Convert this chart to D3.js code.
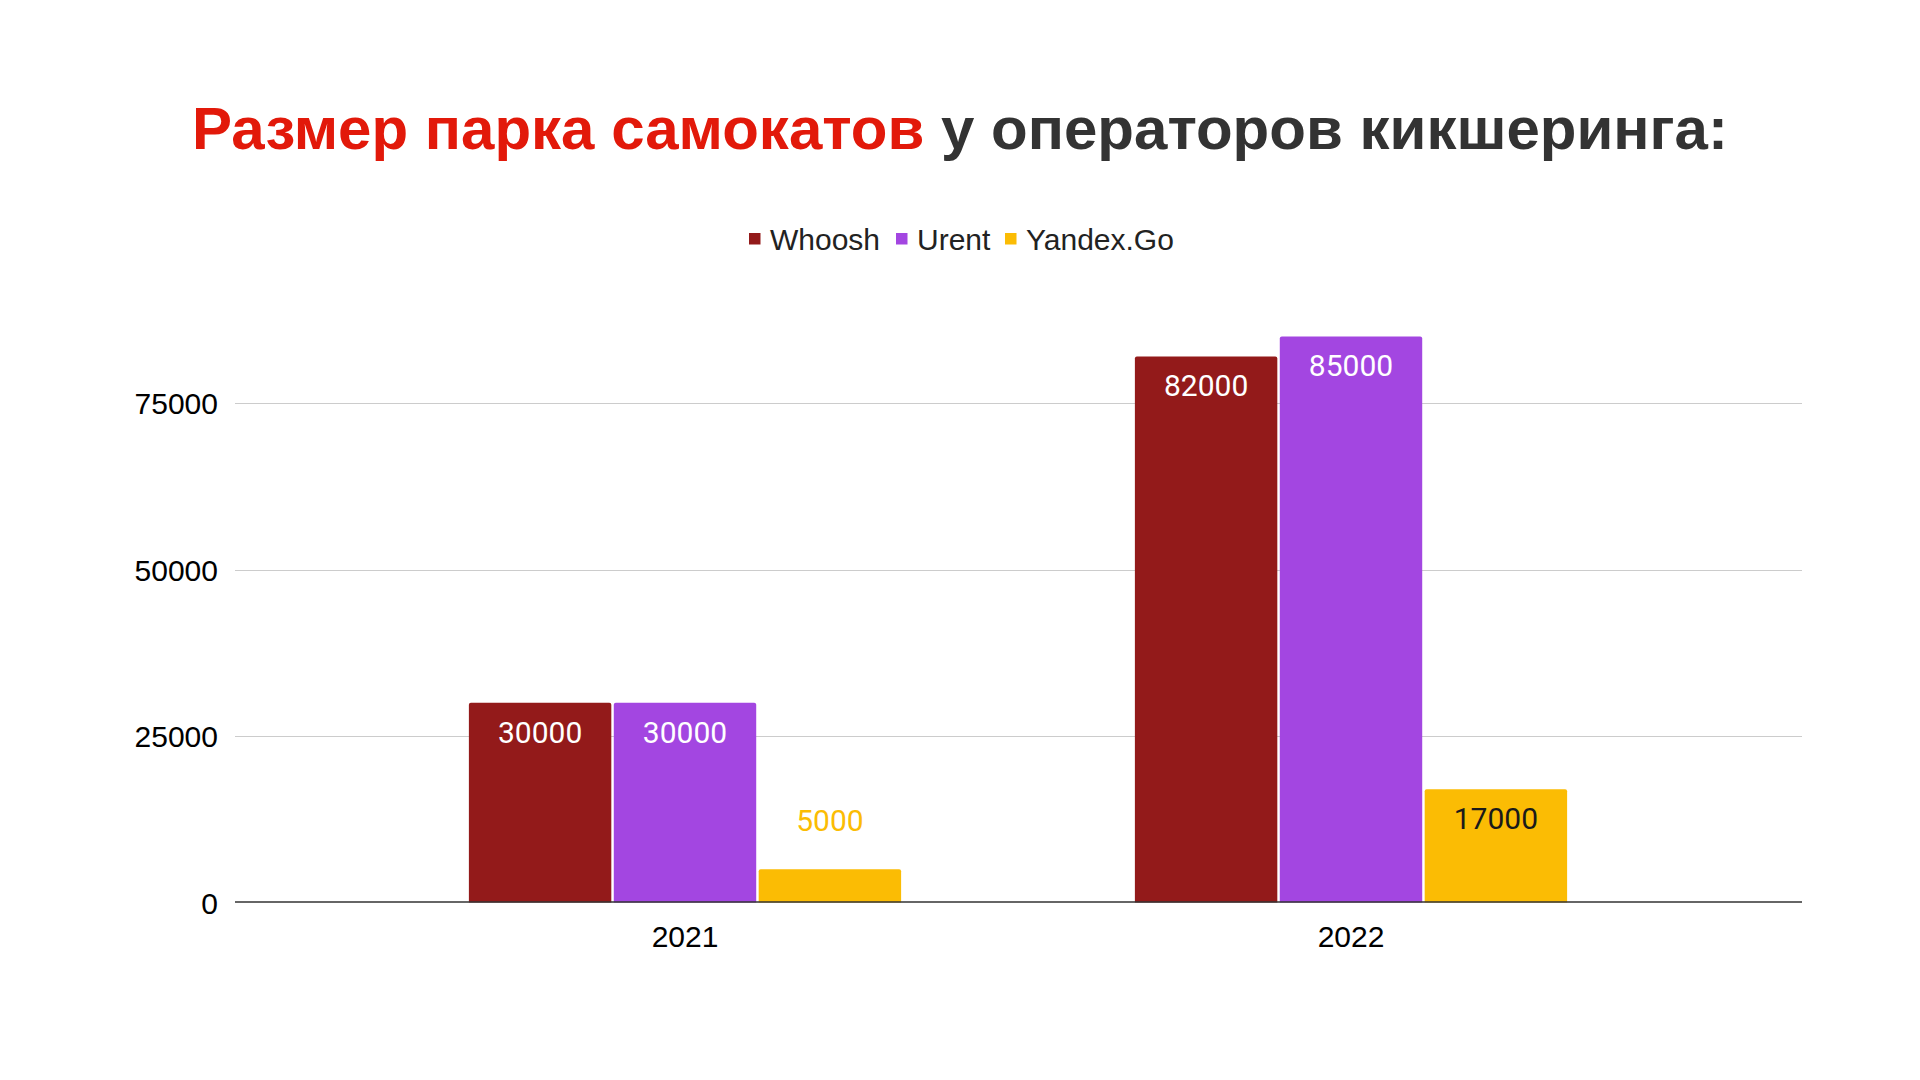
<!DOCTYPE html>
<meta charset="utf-8">
<script src="https://d3js.org/d3.v7.min.js"></script>
<style>
body { margin: 0; background: white; }
svg text { font-family: "Liberation Sans", Arial, sans-serif; }
</style>
<body>
<svg id="chart" width="1920" height="1080"></svg>
<script>
  // data
  var years = ["2021", "2022"];
  var operators = ["Whoosh", "Urent", "Yandex.Go"];
  var whoosh = [30000, 82000];
  var urent = [30000, 85000];
  var yandex = [5000, 17000];
  var yTicks = [0, 25000, 50000, 75000];
  var colors = ["#931a1a", "#a346e1", "#fbbc04"];

  var seriesValues = [whoosh, urent, yandex];
  var rows = [];
  years.forEach(function(yr, i) {
    operators.forEach(function(op, j) {
      rows.push({year: yr, op: op, value: seriesValues[j][i], idx: j});
    });
  });

  var svg = d3.select("#chart");

  // title
  var title = svg.append("text")
    .attr("x", 960)
    .attr("y", 149)
    .attr("text-anchor", "middle")
    .style("font-size", "60px")
    .style("font-weight", "bold");
  title.append("tspan").attr("fill", "#e2190a").text("Размер парка самокатов");
  title.append("tspan").attr("fill", "#333333").text(" у операторов кикшеринга:");

  var plotLeft = 235, plotRight = 1802;

  var y = d3.scaleLinear()
    .domain([0, 75000])
    .range([902.5, 403]);

  var x = d3.scaleBand()
    .domain(years)
    .range([352, 1684])
    .paddingInner(0.351)
    .paddingOuter(0.1755);

  var xInner = d3.scaleBand()
    .domain(operators)
    .range([0, x.bandwidth()])
    .paddingInner(0.017);

  // gridlines
  svg.append("g")
    .selectAll("line")
    .data(yTicks.filter(function(d) { return d > 0; }))
    .enter()
    .append("line")
      .attr("x1", plotLeft)
      .attr("x2", plotRight)
      .attr("y1", function(d) { return Math.round(y(d)) + 0.5; })
      .attr("y2", function(d) { return Math.round(y(d)) + 0.5; })
      .attr("stroke", "#cccccc")
      .attr("stroke-width", 1);

  // y axis labels
  var yAxis = svg.append("g")
    .attr("transform", "translate(" + (plotLeft - 17) + ",0)")
    .call(d3.axisLeft(y).tickValues(yTicks).tickSize(0).tickPadding(0).tickFormat(d3.format("d")));
  yAxis.select(".domain").remove();
  yAxis.selectAll("text")
    .attr("fill", "#000")
    .attr("dy", "0.36em")
    .style("font-size", "30px")
    .style("font-family", "'Liberation Sans', Arial, sans-serif");

  // bars
  var bars = svg.append("g")
    .selectAll("path")
    .data(rows)
    .enter()
    .append("path")
      .attr("d", function(d) {
        var x0 = x(d.year) + xInner(d.op), w = xInner.bandwidth();
        var top = y(d.value), bot = y(0), r = 2;
        return "M" + x0 + "," + bot + "V" + (top + r) +
          "Q" + x0 + "," + top + " " + (x0 + r) + "," + top +
          "H" + (x0 + w - r) +
          "Q" + (x0 + w) + "," + top + " " + (x0 + w) + "," + (top + r) +
          "V" + bot + "Z";
      })
      .attr("fill", function(d) { return colors[d.idx]; });

  // value labels
  svg.append("g")
    .selectAll("text")
    .data(rows)
    .enter()
    .append("text")
      .attr("x", function(d) { return x(d.year) + xInner(d.op) + xInner.bandwidth() / 2; })
      .attr("y", function(d) {
        var inside = (y(0) - y(d.value)) > 60;
        return inside ? y(d.value) + 40 : y(d.value) - 38.5;
      })
      .attr("text-anchor", "middle")
      .style("font-family", "Roboto, sans-serif")
      .style("font-size", "30px")
      .attr("fill", function(d) {
        var inside = (y(0) - y(d.value)) > 60;
        if (!inside) return colors[d.idx];
        return d.idx == 2 ? "#1a1a1a" : "#ffffff";
      })
      .text(function(d) { return d.value; });

  // x axis
  svg.append("line")
    .attr("x1", plotLeft)
    .attr("x2", plotRight)
    .attr("y1", y(0) - 0.5)
    .attr("y2", y(0) - 0.5)
    .attr("stroke", "#333333")
    .attr("stroke-width", 1.5);

  svg.append("g")
    .selectAll("text")
    .data(years)
    .enter()
    .append("text")
      .attr("x", function(d) { return x(d) + x.bandwidth() / 2; })
      .attr("y", 946.5)
      .attr("text-anchor", "middle")
      .attr("fill", "#000")
      .style("font-size", "30px")
      .text(function(d) { return d; });

  // legend
  var legendX = [749, 896, 1005];
  var legend = svg.append("g")
    .selectAll("g")
    .data(operators)
    .enter()
    .append("g")
      .attr("transform", function(d, i) { return "translate(" + legendX[i] + ",0)"; });
  legend.append("rect")
    .attr("x", 0)
    .attr("y", 233)
    .attr("width", 11.5)
    .attr("height", 11.5)
    .attr("fill", function(d, i) { return colors[i]; });
  legend.append("text")
    .attr("x", 21)
    .attr("y", 250)
    .attr("fill", "#222")
    .style("font-size", "30px")
    .text(function(d) { return d; });
</script>
</body>
